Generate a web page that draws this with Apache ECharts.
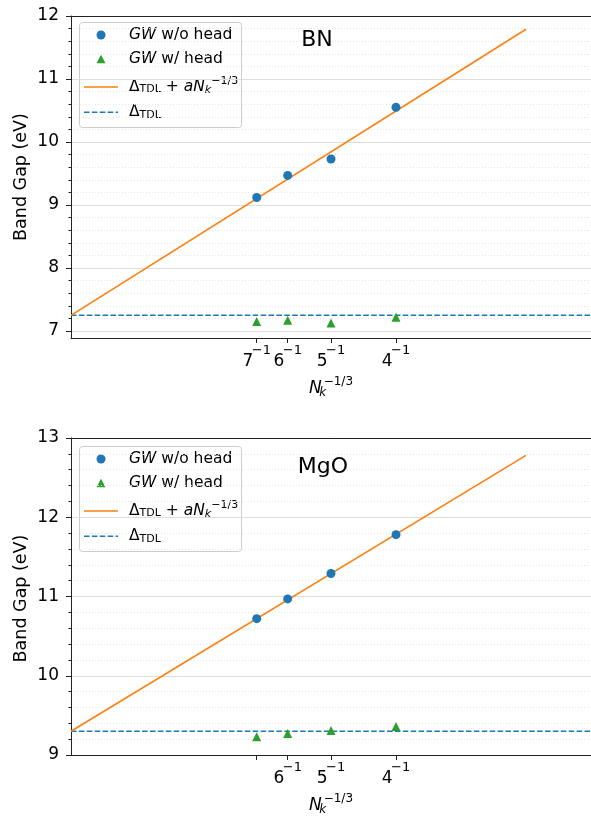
<!DOCTYPE html>
<html><head><meta charset="utf-8">
<script src="https://cdn.jsdelivr.net/npm/echarts@6/dist/echarts.min.js"></script>
<style>html,body{margin:0;padding:0;background:#fff}#c{width:591px;height:817px}</style>
</head><body><div id="c"></div>
<script>
// ---- data ----
const kDen = [7, 6, 5, 4];                       // N_k^{-1/3} = 1/n
const bnWithoutHead = [9.12, 9.47, 9.73, 10.55];
const bnWithHead = [7.15, 7.17, 7.13, 7.22];
const bnTDL = 7.25;
const bnFit = [7.25, 11.79];                     // at fitX
const mgoWithoutHead = [10.72, 10.97, 11.29, 11.78];
const mgoWithHead = [9.23, 9.27, 9.31, 9.36];
const mgoTDL = 9.30;
const mgoFit = [9.30, 12.78];
const fitX = [0, 0.35];
const xRange = [0, 0.4];
const bnYRange = [6.89, 12];
const mgoYRange = [9, 13];
const bnYTicks = [7, 8, 9, 10, 11, 12];
const mgoYTicks = [9, 10, 11, 12, 13];
const bnXTickLabels = ['7', '6', '5', '4'];
const mgoXTickLabels = ['', '6', '5', '4'];
const titles = ['BN', 'MgO'];
const yAxisTitle = 'Band Gap (eV)';

// ---- helpers ----
const FONT = 'DejaVu Sans';
const C_BLUE = '#1f77b4', C_ORANGE = '#ff7f0e', C_GREEN = '#2ca02c';
const xVals = kDen.map(n => 1 / n);
function minorTicks(ticks) {
  const out = [];
  for (let i = 0; i < ticks.length - 1; i++)
    for (let j = 1; j < 5; j++) out.push(+(ticks[i] + j * (ticks[i + 1] - ticks[i]) / 5).toFixed(4));
  return out;
}
const LF = 15.5;
const legendRich = {
  n: {fontFamily: FONT, fontSize: LF, fill: '#000', lineHeight: 20},
  it: {fontFamily: FONT, fontSize: LF, fontStyle: 'italic', fill: '#000', lineHeight: 20},
  sub: {fontFamily: FONT, fontSize: 11, fill: '#000', verticalAlign: 'top', lineHeight: 11, padding: [7, 0, 0, 0]},
  subk: {fontFamily: FONT, fontSize: 11, fontStyle: 'italic', fill: '#000', verticalAlign: 'top', lineHeight: 11, padding: [8, 0, 0, 0]},
  sup: {fontFamily: FONT, fontSize: 11, fill: '#000', verticalAlign: 'top', lineHeight: 11, padding: [-1.5, 0, 0, 0]}
};
const legendTexts = [
  '{it|GW}{n| w/o head}',
  '{it|GW}{n| w/ head}',
  '{n|Δ}{sub|TDL}{n| + }{it|aN}{subk|k}{sup|−1/3}',
  '{n|Δ}{sub|TDL}'
];
const legendRows = [13, 37.3, 65, 90.3];   // offsets from legend box top
const tickRich = {
  b: {fontFamily: FONT, fontSize: 17, color: '#000', lineHeight: 20},
  s: {fontFamily: FONT, fontSize: 13, color: '#000', verticalAlign: 'top', lineHeight: 13, padding: [-7.5, 0, 0, -1.5]}
};
const nameRich = {
  it: {fontFamily: FONT, fontSize: 17, fontStyle: 'italic', color: '#000', lineHeight: 22},
  k: {fontFamily: FONT, fontSize: 12, fontStyle: 'italic', color: '#000', verticalAlign: 'top', lineHeight: 12, width: 2, padding: [9, 0, 0, 0]},
  s: {fontFamily: FONT, fontSize: 12, color: '#000', verticalAlign: 'top', lineHeight: 12, padding: [-2, 0, 0, 0]}
};

const grids = [
  {left: 71, top: 16, width: 522, height: 322},
  {left: 71, top: 438, width: 522, height: 321}
];
const legendBoxTop = [22, 446];
const panels = [
  {yRange: bnYRange, yTicks: bnYTicks, xLabels: bnXTickLabels, wo: bnWithoutHead, w: bnWithHead, tdl: bnTDL, fit: bnFit},
  {yRange: mgoYRange, yTicks: mgoYTicks, xLabels: mgoXTickLabels, wo: mgoWithoutHead, w: mgoWithHead, tdl: mgoTDL, fit: mgoFit}
];

const option = {
  animation: false,
  backgroundColor: '#fff',
  grid: grids,
  xAxis: [], yAxis: [], series: [], graphic: []
};

panels.forEach((p, i) => {
  const labelVals = xVals.filter((v, j) => p.xLabels[j] !== '');
  option.xAxis.push({
    type: 'value', gridIndex: i, min: xRange[0], max: xRange[1],
    axisLine: {show: true, onZero: false, lineStyle: {color: '#222', width: 1}},
    axisTick: {show: true, length: 5, customValues: xVals, lineStyle: {color: '#222', width: 1}},
    axisLabel: {
      customValues: labelVals, margin: 13.5, rich: tickRich,
      formatter: v => {
        let best = 0;
        xVals.forEach((x, j) => { if (Math.abs(x - v) < Math.abs(xVals[best] - v)) best = j; });
        return '{b|' + p.xLabels[best] + '}{s|−1}';
      }
    },
    splitLine: {show: false},
    name: '{it|N}{k|k}{s|−1/3}', nameLocation: 'middle', nameGap: 40,
    nameTextStyle: {rich: nameRich}
  });
  // top spine
  option.xAxis.push({
    type: 'value', gridIndex: i, min: xRange[0], max: xRange[1], position: 'top',
    axisLine: {show: true, onZero: false, lineStyle: {color: '#222', width: 1}},
    axisTick: {show: false}, axisLabel: {show: false}, splitLine: {show: false}
  });
  // major y axis
  option.yAxis.push({
    type: 'value', gridIndex: i, min: p.yRange[0], max: p.yRange[1],
    axisLine: {show: true, onZero: false, lineStyle: {color: '#222', width: 1}},
    axisTick: {show: true, length: 5, customValues: p.yTicks, lineStyle: {color: '#222', width: 1}},
    axisLabel: {customValues: p.yTicks, margin: 12, fontFamily: FONT, fontSize: 17, color: '#000'},
    splitLine: {show: true, lineStyle: {color: '#dddddd', width: 1}}
  });
  // minor y axis (ticks + dotted grid)
  option.yAxis.push({
    type: 'value', gridIndex: i, min: p.yRange[0], max: p.yRange[1], position: 'left',
    axisLine: {show: false},
    axisTick: {show: true, length: 2.5, customValues: minorTicks(p.yTicks), lineStyle: {color: '#222', width: 1}},
    axisLabel: {show: false, customValues: minorTicks(p.yTicks)},
    splitLine: {show: true, lineStyle: {color: '#e6e6e6', width: 1, type: [1, 2]}}
  });
  const xi = i * 2, yi = i * 2;
  option.series.push(
    {name: 'tdl', type: 'line', xAxisIndex: xi, yAxisIndex: yi, symbol: 'none', z: 3,
     data: xRange.map(x => [x, p.tdl]),
     lineStyle: {color: C_BLUE, width: 1.6, type: [5.5, 2.4]}, itemStyle: {color: C_BLUE}},
    {name: 'fit', type: 'line', xAxisIndex: xi, yAxisIndex: yi, symbol: 'none', z: 3,
     data: fitX.map((x, j) => [x, p.fit[j]]),
     lineStyle: {color: C_ORANGE, width: 1.6}, itemStyle: {color: C_ORANGE}},
    {name: 'wo', type: 'scatter', xAxisIndex: xi, yAxisIndex: yi, symbol: 'circle', symbolSize: 9, z: 4,
     data: xVals.map((x, j) => [x, p.wo[j]]), itemStyle: {color: C_BLUE, opacity: 1}},
    {name: 'w', type: 'scatter', xAxisIndex: xi, yAxisIndex: yi, symbol: 'triangle', symbolSize: 9, z: 4,
     data: xVals.map((x, j) => [x, p.w[j]]), itemStyle: {color: C_GREEN, opacity: 1}}
  );
  // legend (drawn as graphic)
  const bt = legendBoxTop[i];
  const rows = legendRows.map(r => bt + r);
  const lg = [
    {type: 'rect', shape: {x: 79.5, y: bt + 0.5, width: 162, height: 105, r: 3},
     style: {fill: 'rgba(255,255,255,0.8)', stroke: '#cccccc', lineWidth: 1}},
    {type: 'circle', shape: {cx: 101, cy: rows[0], r: 4.5}, style: {fill: C_BLUE}},
    {type: 'polygon', shape: {points: [[96.5, rows[1] + 4], [105.5, rows[1] + 4], [101, rows[1] - 4.5]]}, style: {fill: C_GREEN}},
    {type: 'line', shape: {x1: 84, y1: rows[2], x2: 118, y2: rows[2]}, style: {stroke: C_ORANGE, lineWidth: 1.6}},
    {type: 'line', shape: {x1: 84, y1: rows[3], x2: 118, y2: rows[3]}, style: {stroke: C_BLUE, lineWidth: 1.6, lineDash: [5.5, 2.4]}}
  ];
  legendTexts.forEach((t, j) => lg.push({
    type: 'text', x: 129, y: rows[j],
    style: {text: t, rich: legendRich, fontFamily: FONT, fontSize: LF, fill: '#000', align: 'left', verticalAlign: 'middle'}
  }));
  option.graphic.push({type: 'group', z: 100, children: lg});
  option.graphic.push({
    type: 'text', x: i === 0 ? 317 : 323, y: i === 0 ? 40 : 467, z: 100,
    style: {text: titles[i], fontFamily: FONT, fontSize: 22, fill: '#000', align: 'center', verticalAlign: 'middle'}
  });
  // y axis title
  option.graphic.push({
    type: 'text', x: 21, y: grids[i].top + grids[i].height / 2, rotation: Math.PI / 2, z: 100,
    style: {text: yAxisTitle, fontFamily: FONT, fontSize: 17.5, fill: '#000', align: 'center', verticalAlign: 'middle'}
  });
});

const chart = echarts.init(document.getElementById('c'), null, {renderer: 'canvas'});
chart.setOption(option);
</script>
</body></html>
